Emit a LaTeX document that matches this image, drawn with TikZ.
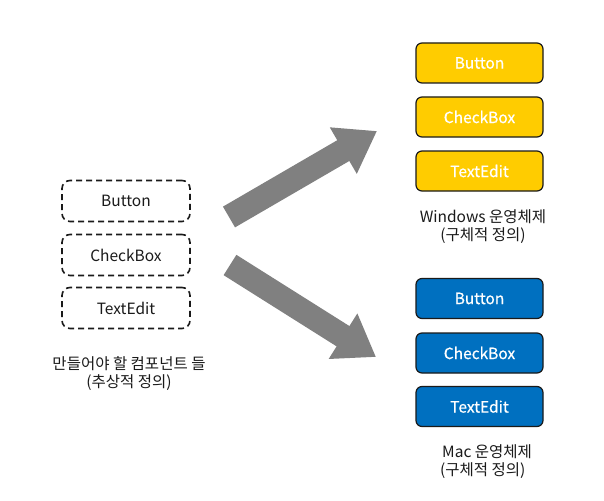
\documentclass[tikz,border=0pt]{standalone}
\usepackage{fontspec}
\setmainfont{Noto Sans CJK KR}
\newfontfamily\semib[FakeBold=0.6]{Noto Sans CJK KR}
\usetikzlibrary{arrows.meta}
\definecolor{winy}{HTML}{FFCC00}
\definecolor{macb}{HTML}{0070C0}
\definecolor{arrg}{HTML}{808080}
\definecolor{txt}{HTML}{1A1A1A}
\begin{document}
\begin{tikzpicture}[x=1pt,y=-1pt,
  absbox/.style={draw=txt,line width=1.6pt,dash pattern=on 6pt off 4pt,rounded corners=8pt,
    minimum width=128pt,minimum height=41pt,inner sep=0pt,font=\fontsize{15.5}{18}\selectfont,text=txt},
  winbox/.style={draw=txt,line width=1.2pt,fill=winy,rounded corners=6pt,
    minimum width=127pt,minimum height=40pt,inner sep=0pt,font=\semib\fontsize{15.5}{18}\selectfont,text=white},
  macbox/.style={winbox,fill=macb},
  lbl/.style={font=\fontsize{15.5}{19}\selectfont,text=txt,inner sep=0pt,align=center},
  bigarrow/.style={draw=arrg,line width=24pt,-{Triangle[width=51pt,length=39pt]}}]
\useasboundingbox[fill=white] (0,0) rectangle (604,500);
% abstract components
\node[absbox] (aB) at (126,201) {Button};
\node[absbox] (aC) at (126,255) {CheckBox};
\node[absbox] (aT) at (126,308) {TextEdit};
\node[lbl] (aL1) at (129,364) {만들어야 할 컴포넌트 들};
\node[lbl] (aL2) at (129,383) {(추상적 정의)};
% windows
\node[winbox] (wB) at (479.5,63) {Button};
\node[winbox] (wC) at (479.5,117) {CheckBox};
\node[winbox] (wT) at (479.5,171) {TextEdit};
\node[lbl] (wL1) at (483,217) {Windows 운영체제};
\node[lbl] (wL2) at (483,236) {(구체적 정의)};
% mac
\node[macbox] (mB) at (479.5,298.5) {Button};
\node[macbox] (mC) at (479.5,353) {CheckBox};
\node[macbox] (mT) at (479.5,406.5) {TextEdit};
\node[lbl,anchor=west] (mL1) at (442,452) {Mac 운영체제};
\node[lbl,anchor=west] (mL2) at (440,471) {(구체적 정의)};
% arrows
\coordinate (u0) at (229,217);
\coordinate (u1) at (377,131);
\coordinate (d0) at (230,265);
\coordinate (d1) at (376,357);
\draw[bigarrow] (u0) -- (u1);
\draw[bigarrow] (d0) -- (d1);
\end{tikzpicture}
\end{document}
